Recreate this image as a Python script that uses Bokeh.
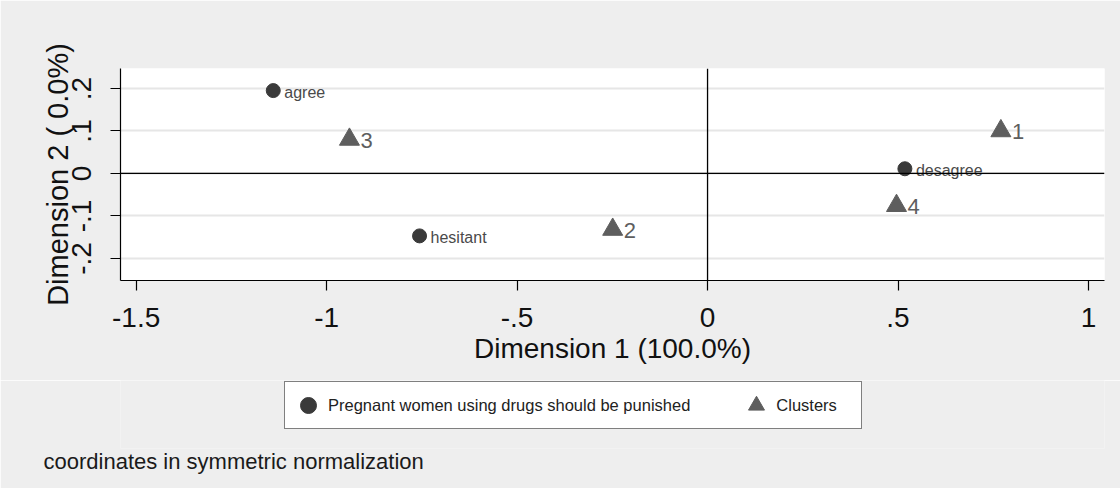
from bokeh.plotting import figure
from bokeh.layouts import column
from bokeh.models import FixedTicker, Span, Legend, LegendItem, Title, Range1d
from bokeh.embed import file_html
from bokeh.resources import INLINE
from bokeh.core.properties import value

# ---- data ----
categories = ["agree", "hesitant", "desagree"]
cat_x = [-1.14, -0.756, 0.518]
cat_y = [0.195, -0.147, 0.011]

clusters = ["1", "2", "3", "4"]
cl_x = [0.770, -0.249, -0.940, 0.496]
cl_y = [0.100, -0.132, 0.080, -0.076]

x_ticks = [-1.5, -1.0, -0.5, 0.0, 0.5, 1.0]
x_tick_labels = ["-1.5", "-1", "-.5", "0", ".5", "1"]
y_ticks = [-0.2, -0.1, 0.0, 0.1, 0.2]
y_tick_labels = ["-.2", "-.1", "0", ".1", ".2"]

legend_labels = ["Pregnant women using drugs should be punished", "Clusters"]
note_text = "coordinates in symmetric normalization"

FONT = "Liberation Sans"
BG = "#eeeeee"
CIRCLE_COLOR = "#3a3a3a"
TRI_COLOR = "#5e5e5e"

W = 1120
H_MAIN = 380
H_BOTTOM = 108

p = figure(width=W, height=H_MAIN,
           x_range=(-1.541, 1.042), y_range=(-0.252, 0.247),
           output_backend="svg", toolbar_location=None,
           min_border_left=120, min_border_right=16,
           min_border_top=68, min_border_bottom=H_MAIN - 280)

p.background_fill_color = "white"
p.border_fill_color = BG
p.outline_line_color = None

# axes
p.xaxis.ticker = FixedTicker(ticks=x_ticks)
p.xaxis.major_label_overrides = dict(zip(x_ticks, x_tick_labels))
p.yaxis.ticker = FixedTicker(ticks=y_ticks)
p.yaxis.major_label_overrides = dict(zip(y_ticks, y_tick_labels))
p.yaxis.major_label_orientation = "vertical"

for ax in (p.xaxis, p.yaxis):
    ax.major_tick_out = 10
    ax.major_tick_in = 0
    ax.minor_tick_line_color = None
    ax.axis_line_color = "black"
    ax.axis_line_width = 1.2
    ax.major_tick_line_color = "black"
    ax.major_tick_line_width = 1.2
    ax.major_label_text_font = FONT
    ax.major_label_text_font_size = "28px"
    ax.major_label_text_color = "#111111"
    ax.axis_label_text_font = FONT
    ax.axis_label_text_font_size = "28px"
    ax.axis_label_text_font_style = "normal"
    ax.axis_label_text_color = "#111111"

p.xaxis.axis_label = "Dimension 1 (100.0%)"
p.yaxis.axis_label = "Dimension 2 ( 0.0%)"
p.yaxis.axis_label_text_font_size = "29px"
p.xaxis.major_label_standoff = 17
p.xaxis.axis_label_standoff = 3
p.yaxis.major_label_standoff = 19
p.yaxis.axis_label_standoff = -4

p.xgrid.visible = False
p.ygrid.grid_line_color = "#e6e6e6"
p.ygrid.grid_line_width = 2

p.add_layout(Span(location=0, dimension="width", line_color="black", line_width=1.3))
p.add_layout(Span(location=0, dimension="height", line_color="black", line_width=1.3))

# points
p.scatter(cat_x, cat_y, marker="circle", size=14,
          fill_color=CIRCLE_COLOR, line_color=CIRCLE_COLOR)
p.scatter(cl_x, cl_y, marker="triangle", size=20,
          fill_color=TRI_COLOR, line_color=TRI_COLOR)

p.text(x=cat_x, y=cat_y, text=categories, x_offset=11, y_offset=2,
       text_baseline="middle", text_font=value(FONT), text_font_size="16px",
       text_color="#4a4a4a")
p.text(x=cl_x, y=cl_y, text=clusters, x_offset=11, y_offset=1,
       text_baseline="middle", text_font=value(FONT), text_font_size="22px",
       text_color=TRI_COLOR)

# ---- bottom strip: legend + note ----
q = figure(width=W, height=H_BOTTOM,
           x_range=Range1d(10, 11), y_range=Range1d(10, 11),
           output_backend="svg", toolbar_location=None,
           x_axis_location=None, y_axis_location=None,
           min_border=0, min_border_bottom=40)
q.background_fill_color = BG
q.border_fill_color = BG
q.outline_line_color = None
q.xgrid.visible = False
q.ygrid.visible = False

# same series drawn off-range: only used for the legend glyphs
lg_cat = q.scatter(cat_x, cat_y, marker="circle", fill_color=CIRCLE_COLOR, line_color=CIRCLE_COLOR)
lg_cl = q.scatter(cl_x, cl_y, marker="triangle", fill_color=TRI_COLOR, line_color=TRI_COLOR)

legend = Legend(items=[
    LegendItem(label=legend_labels[0], renderers=[lg_cat]),
    LegendItem(label=legend_labels[1], renderers=[lg_cl]),
], orientation="horizontal", location=(164, 19),
    glyph_width=40, glyph_height=40, padding=3, spacing=46, label_standoff=0,
    label_width=82,
    border_line_color="black", border_line_width=1.5,
    background_fill_color="white", background_fill_alpha=1.0,
    label_text_font=FONT, label_text_font_size="16.5px", label_text_color="#222222",
    margin=0)
q.add_layout(legend, "center")

note = Title(text=note_text, align="left", offset=-77, standoff=0,
             vertical_align="top",
             text_font=FONT, text_font_size="22px", text_font_style="normal",
             text_color="#1a1a1a")
q.add_layout(note, "below")

layout = column(p, q, spacing=0)
open("out.html", "w").write(file_html(layout, INLINE))
